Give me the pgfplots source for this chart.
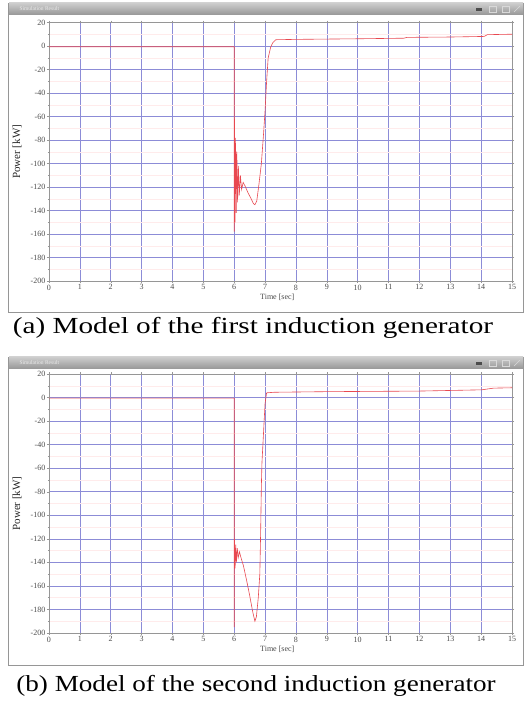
\documentclass[border=0pt]{standalone}
\usepackage{fontspec}
\setmainfont{Liberation Serif}
\usepackage{pgfplots}
\pgfplotsset{compat=1.18}
\definecolor{GridBlue}{RGB}{140,140,215}
\definecolor{TraceRed}{RGB}{232,72,80}
\definecolor{FrameGray}{RGB}{150,150,150}
\definecolor{BarTop}{RGB}{205,205,205}
\definecolor{BarBot}{RGB}{150,150,150}

\pgfplotsset{
  scopeplot/.style={
    anchor=south west,
    scale only axis,
    width=463pt,
    xmin=0,xmax=15,
    ymin=-200,ymax=20,
    xtick={0,...,15},
    ytick={-200,-180,...,20},
    minor y tick num=1,
    grid=both,
    major grid style={draw=GridBlue,line width=0.5pt},
    minor grid style={draw=red!8,line width=0.4pt},
    axis line style={draw=FrameGray,line width=0.6pt},
    tick style={draw=FrameGray,line width=0.4pt},
    tick align=outside,
    major tick length=2pt,
    minor tick length=1.2pt,
    tick label style={font=\fontsize{8}{9}\selectfont,text=black!70,inner sep=1.5pt},
    /pgf/number format/assume math mode=true,
    xlabel={Time [sec]},
    ylabel={Power [kW]},
    xlabel style={at={(axis description cs:0.493,0)},anchor=center,yshift=-16pt,
      inner sep=0pt,font=\fontsize{8}{9}\selectfont,text=black!70},
    ylabel style={at={(axis description cs:0,0.5)},anchor=center,yshift=32pt,
      font=\fontsize{11}{12}\selectfont,text=black!85},
  }
}

\newcommand{\scopewindow}[2]{%
  % #1 bottom of frame, #2 top of frame (pt)
  \fill[white] (8.5pt,#1pt) rectangle (523pt,#2pt);
  \draw[FrameGray,line width=0.7pt] (8.5pt,#1pt) rectangle (523.5pt,#2pt);
  \shade[top color=BarTop,bottom color=BarBot] (9pt,#2pt-12pt) rectangle (523pt,#2pt);
  \node[anchor=west,font=\fontsize{5.5}{6}\selectfont,text=white!92!black]
    at (16pt,#2pt-6pt) {Simulation Result};
  \fill[black!70] (476pt,#2pt-8pt) rectangle (482pt,#2pt-5pt);
  \draw[white!85!black,line width=0.5pt] (489pt,#2pt-9pt) rectangle (496pt,#2pt-3pt);
  \draw[white!85!black,line width=0.5pt] (502pt,#2pt-9pt) rectangle (509pt,#2pt-3pt);
  \draw[white!85!black,line width=0.5pt] (514pt,#2pt-9pt) -- (520pt,#2pt-3pt);
}

\begin{document}
\begin{tikzpicture}
  \useasboundingbox (0pt,0pt) rectangle (523pt,705pt);

  % ---------- panel (a)
  \scopewindow{393}{702}
  \begin{axis}[scopeplot,at={(49pt,424pt)},height=258.3pt]
    \addplot[TraceRed,line width=0.6pt] coordinates {
      (0,-0.5) (6.0,-0.5) (6.0,-158) (6.01,-62) (6.025,-150) (6.045,-78)
      (6.065,-142) (6.085,-90) (6.11,-133) (6.135,-102) (6.165,-127)
      (6.2,-110) (6.24,-122) (6.29,-116) (6.35,-119) (6.45,-125)
      (6.55,-130) (6.62,-134) (6.67,-135) (6.73,-132) (6.8,-118) (6.88,-100)
      (6.95,-75) (7.0,-55) (7.05,-30) (7.1,-10) (7.18,-1) (7.25,3) (7.35,5.5)
      (8,5.8) (10,6.3) (11.5,6.8) (11.6,7.5) (13,7.8) (14.1,8.3) (14.2,9.8)
      (15,10.2)
    };
  \end{axis}
  \node[anchor=base,font=\fontsize{23}{26}\selectfont] at (253pt,371pt)
    {\scalebox{1.27}[1]{(a) Model of the first induction generator}};

  % ---------- panel (b)
  \scopewindow{40}{348}
  \begin{axis}[scopeplot,at={(49pt,72pt)},height=259pt]
    \addplot[TraceRed,line width=0.6pt] coordinates {
      (0,-0.5) (6.0,-0.5) (6.0,-195) (6.01,-120) (6.03,-145) (6.05,-125)
      (6.07,-140) (6.1,-128) (6.13,-136) (6.17,-131) (6.22,-136) (6.3,-143)
      (6.4,-155) (6.5,-168) (6.6,-182) (6.67,-190) (6.72,-186) (6.78,-170)
      (6.83,-150) (6.86,-110) (6.88,-75) (6.9,-55) (6.95,-30) (7.0,-5)
      (7.05,4) (7.3,4.5) (9,5) (12,5.5) (13.9,6.5) (14.0,6.5) (14.4,8)
      (15,8.3)
    };
  \end{axis}
  \node[anchor=base,font=\fontsize{23}{26}\selectfont] at (256pt,13pt)
    {\scalebox{1.18}[1]{(b) Model of the second induction generator}};
\end{tikzpicture}
\end{document}
